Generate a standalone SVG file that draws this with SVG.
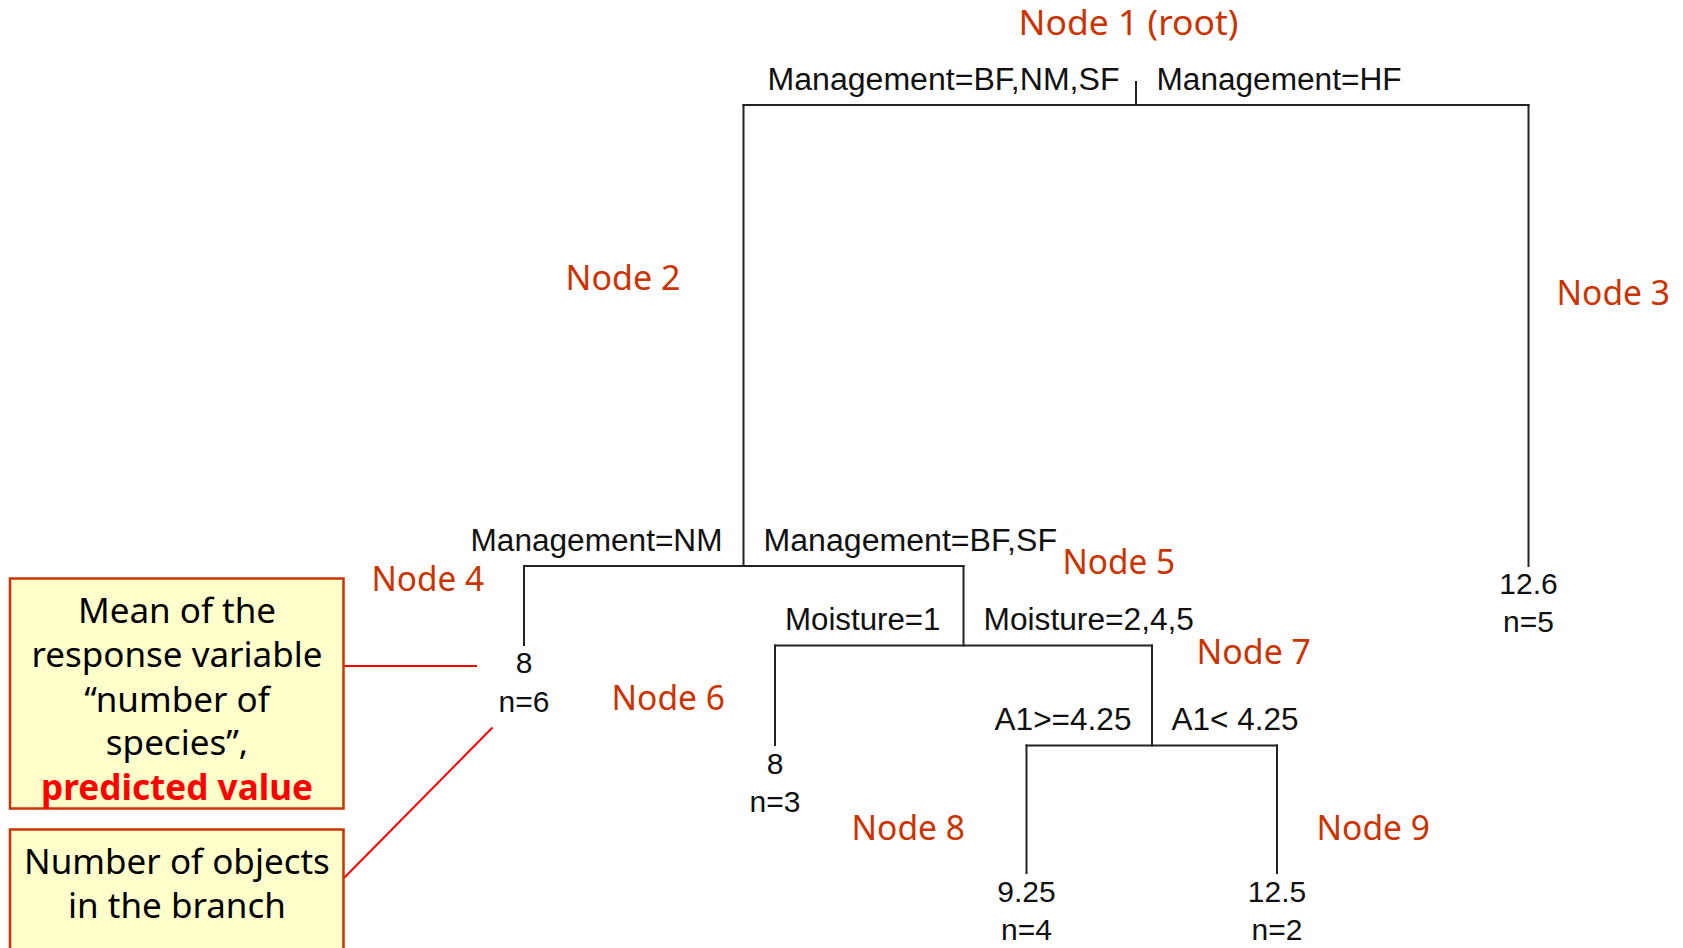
<svg xmlns="http://www.w3.org/2000/svg" width="1683" height="948" viewBox="0 0 1683 948">
  <style>
    .edge { stroke: #222; stroke-width: 2; fill: none; stroke-linecap: square; }
    .callout { stroke: #FF0000; stroke-width: 2; fill: none; }
    .split { font-family: "Liberation Sans", Arial, sans-serif; font-size: 31px; fill: #111; }
    .leaf { font-family: "Liberation Sans", Arial, sans-serif; font-size: 30px; fill: #111; text-anchor: middle; }
    .nodelbl { font-family: "Noto Sans", "Open Sans", sans-serif; font-size: 34px; fill: #CC3300; }
    .note { fill: #FFFFCC; stroke: #CC3300; stroke-width: 2.5; }
    .notetxt { font-family: "Noto Sans", "Open Sans", sans-serif; font-size: 35px; fill: #000; text-anchor: middle; }
    .emph { fill: #FF0000; font-weight: bold; }
  </style>

  <rect width="1683" height="948" fill="#FFFFFF"/>

  <!-- tree branches and callout leaders -->
  <g id="connectors">
    <path class="edge" d="M1136 82 V105"/>
    <path class="edge" d="M743.5 105 H1528.5"/>
    <path class="edge" d="M743.5 105 V566"/>
    <path class="edge" d="M1528.5 105 V566"/>
    <path class="edge" d="M524 566 H963.5"/>
    <path class="edge" d="M524 566 V645"/>
    <path class="edge" d="M963.5 566 V645.5"/>
    <path class="edge" d="M775 645.5 H1152"/>
    <path class="edge" d="M775 645.5 V745"/>
    <path class="edge" d="M1152 645.5 V745.5"/>
    <path class="edge" d="M1026.5 745.5 H1277"/>
    <path class="edge" d="M1026.5 745.5 V873"/>
    <path class="edge" d="M1277 745.5 V873"/>
    <path class="callout" d="M343.5 666 H477"/>
    <path class="callout" d="M343.5 878.5 L492.5 727.5"/>
  </g>

  <!-- root split -->
  <g id="node1">
    <text class="nodelbl" x="1018.5" y="35" textLength="220" lengthAdjust="spacingAndGlyphs">Node 1 (root)</text>
    <text class="split" x="767.5" y="90" textLength="352" lengthAdjust="spacingAndGlyphs">Management=BF,NM,SF</text>
    <text class="split" x="1156.5" y="90" textLength="245" lengthAdjust="spacingAndGlyphs">Management=HF</text>
  </g>

  <g id="node2">
    <text class="nodelbl" x="565.5" y="290" textLength="115" lengthAdjust="spacingAndGlyphs">Node 2</text>
    <text class="split" x="470.5" y="550.5" textLength="252" lengthAdjust="spacingAndGlyphs">Management=NM</text>
    <text class="split" x="763.5" y="550.5" textLength="293.5" lengthAdjust="spacingAndGlyphs">Management=BF,SF</text>
  </g>

  <g id="node3">
    <text class="nodelbl" x="1556.5" y="305" textLength="113.5" lengthAdjust="spacingAndGlyphs">Node 3</text>
    <text class="leaf" x="1528.5" y="593.5">12.6</text>
    <text class="leaf" x="1528.5" y="631.5">n=5</text>
  </g>

  <g id="node4">
    <text class="nodelbl" x="371.5" y="590.5" textLength="112.5" lengthAdjust="spacingAndGlyphs">Node 4</text>
    <text class="leaf" x="524" y="673">8</text>
    <text class="leaf" x="524" y="711.5">n=6</text>
  </g>

  <g id="node5">
    <text class="nodelbl" x="1062.5" y="574" textLength="112.5" lengthAdjust="spacingAndGlyphs">Node 5</text>
    <text class="split" x="785" y="630" textLength="155.5" lengthAdjust="spacingAndGlyphs">Moisture=1</text>
    <text class="split" x="983.5" y="629.5" textLength="210.5" lengthAdjust="spacingAndGlyphs">Moisture=2,4,5</text>
  </g>

  <g id="node6">
    <text class="nodelbl" x="611.5" y="710" textLength="113.5" lengthAdjust="spacingAndGlyphs">Node 6</text>
    <text class="leaf" x="775" y="773.5">8</text>
    <text class="leaf" x="775" y="811.5">n=3</text>
  </g>

  <g id="node7">
    <text class="nodelbl" x="1196.5" y="664" textLength="114.5" lengthAdjust="spacingAndGlyphs">Node 7</text>
    <text class="split" x="994.5" y="730" textLength="137" lengthAdjust="spacingAndGlyphs">A1&gt;=4.25</text>
    <text class="split" x="1171.5" y="730" textLength="127" lengthAdjust="spacingAndGlyphs">A1&lt; 4.25</text>
  </g>

  <g id="node8">
    <text class="nodelbl" x="851.5" y="840" textLength="113.5" lengthAdjust="spacingAndGlyphs">Node 8</text>
    <text class="leaf" x="1026.5" y="901.5">9.25</text>
    <text class="leaf" x="1026.5" y="940">n=4</text>
  </g>

  <g id="node9">
    <text class="nodelbl" x="1316.5" y="839.5" textLength="113.5" lengthAdjust="spacingAndGlyphs">Node 9</text>
    <text class="leaf" x="1277" y="901.5">12.5</text>
    <text class="leaf" x="1277" y="940">n=2</text>
  </g>

  <!-- explanatory notes -->
  <g id="note-mean">
    <rect class="note" x="10" y="578.5" width="333.5" height="230"/>
    <text class="notetxt" x="177" y="622.5">Mean of the</text>
    <text class="notetxt" x="177" y="667">response variable</text>
    <text class="notetxt" x="177" y="711.5">“number of</text>
    <text class="notetxt" x="177" y="755">species”,</text>
    <text class="notetxt emph" x="177" y="800" textLength="272" lengthAdjust="spacingAndGlyphs">predicted value</text>
  </g>

  <g id="note-count">
    <rect class="note" x="10" y="829.5" width="333.5" height="140"/>
    <text class="notetxt" x="177" y="873.5">Number of objects</text>
    <text class="notetxt" x="177" y="918">in the branch</text>
  </g>
</svg>
